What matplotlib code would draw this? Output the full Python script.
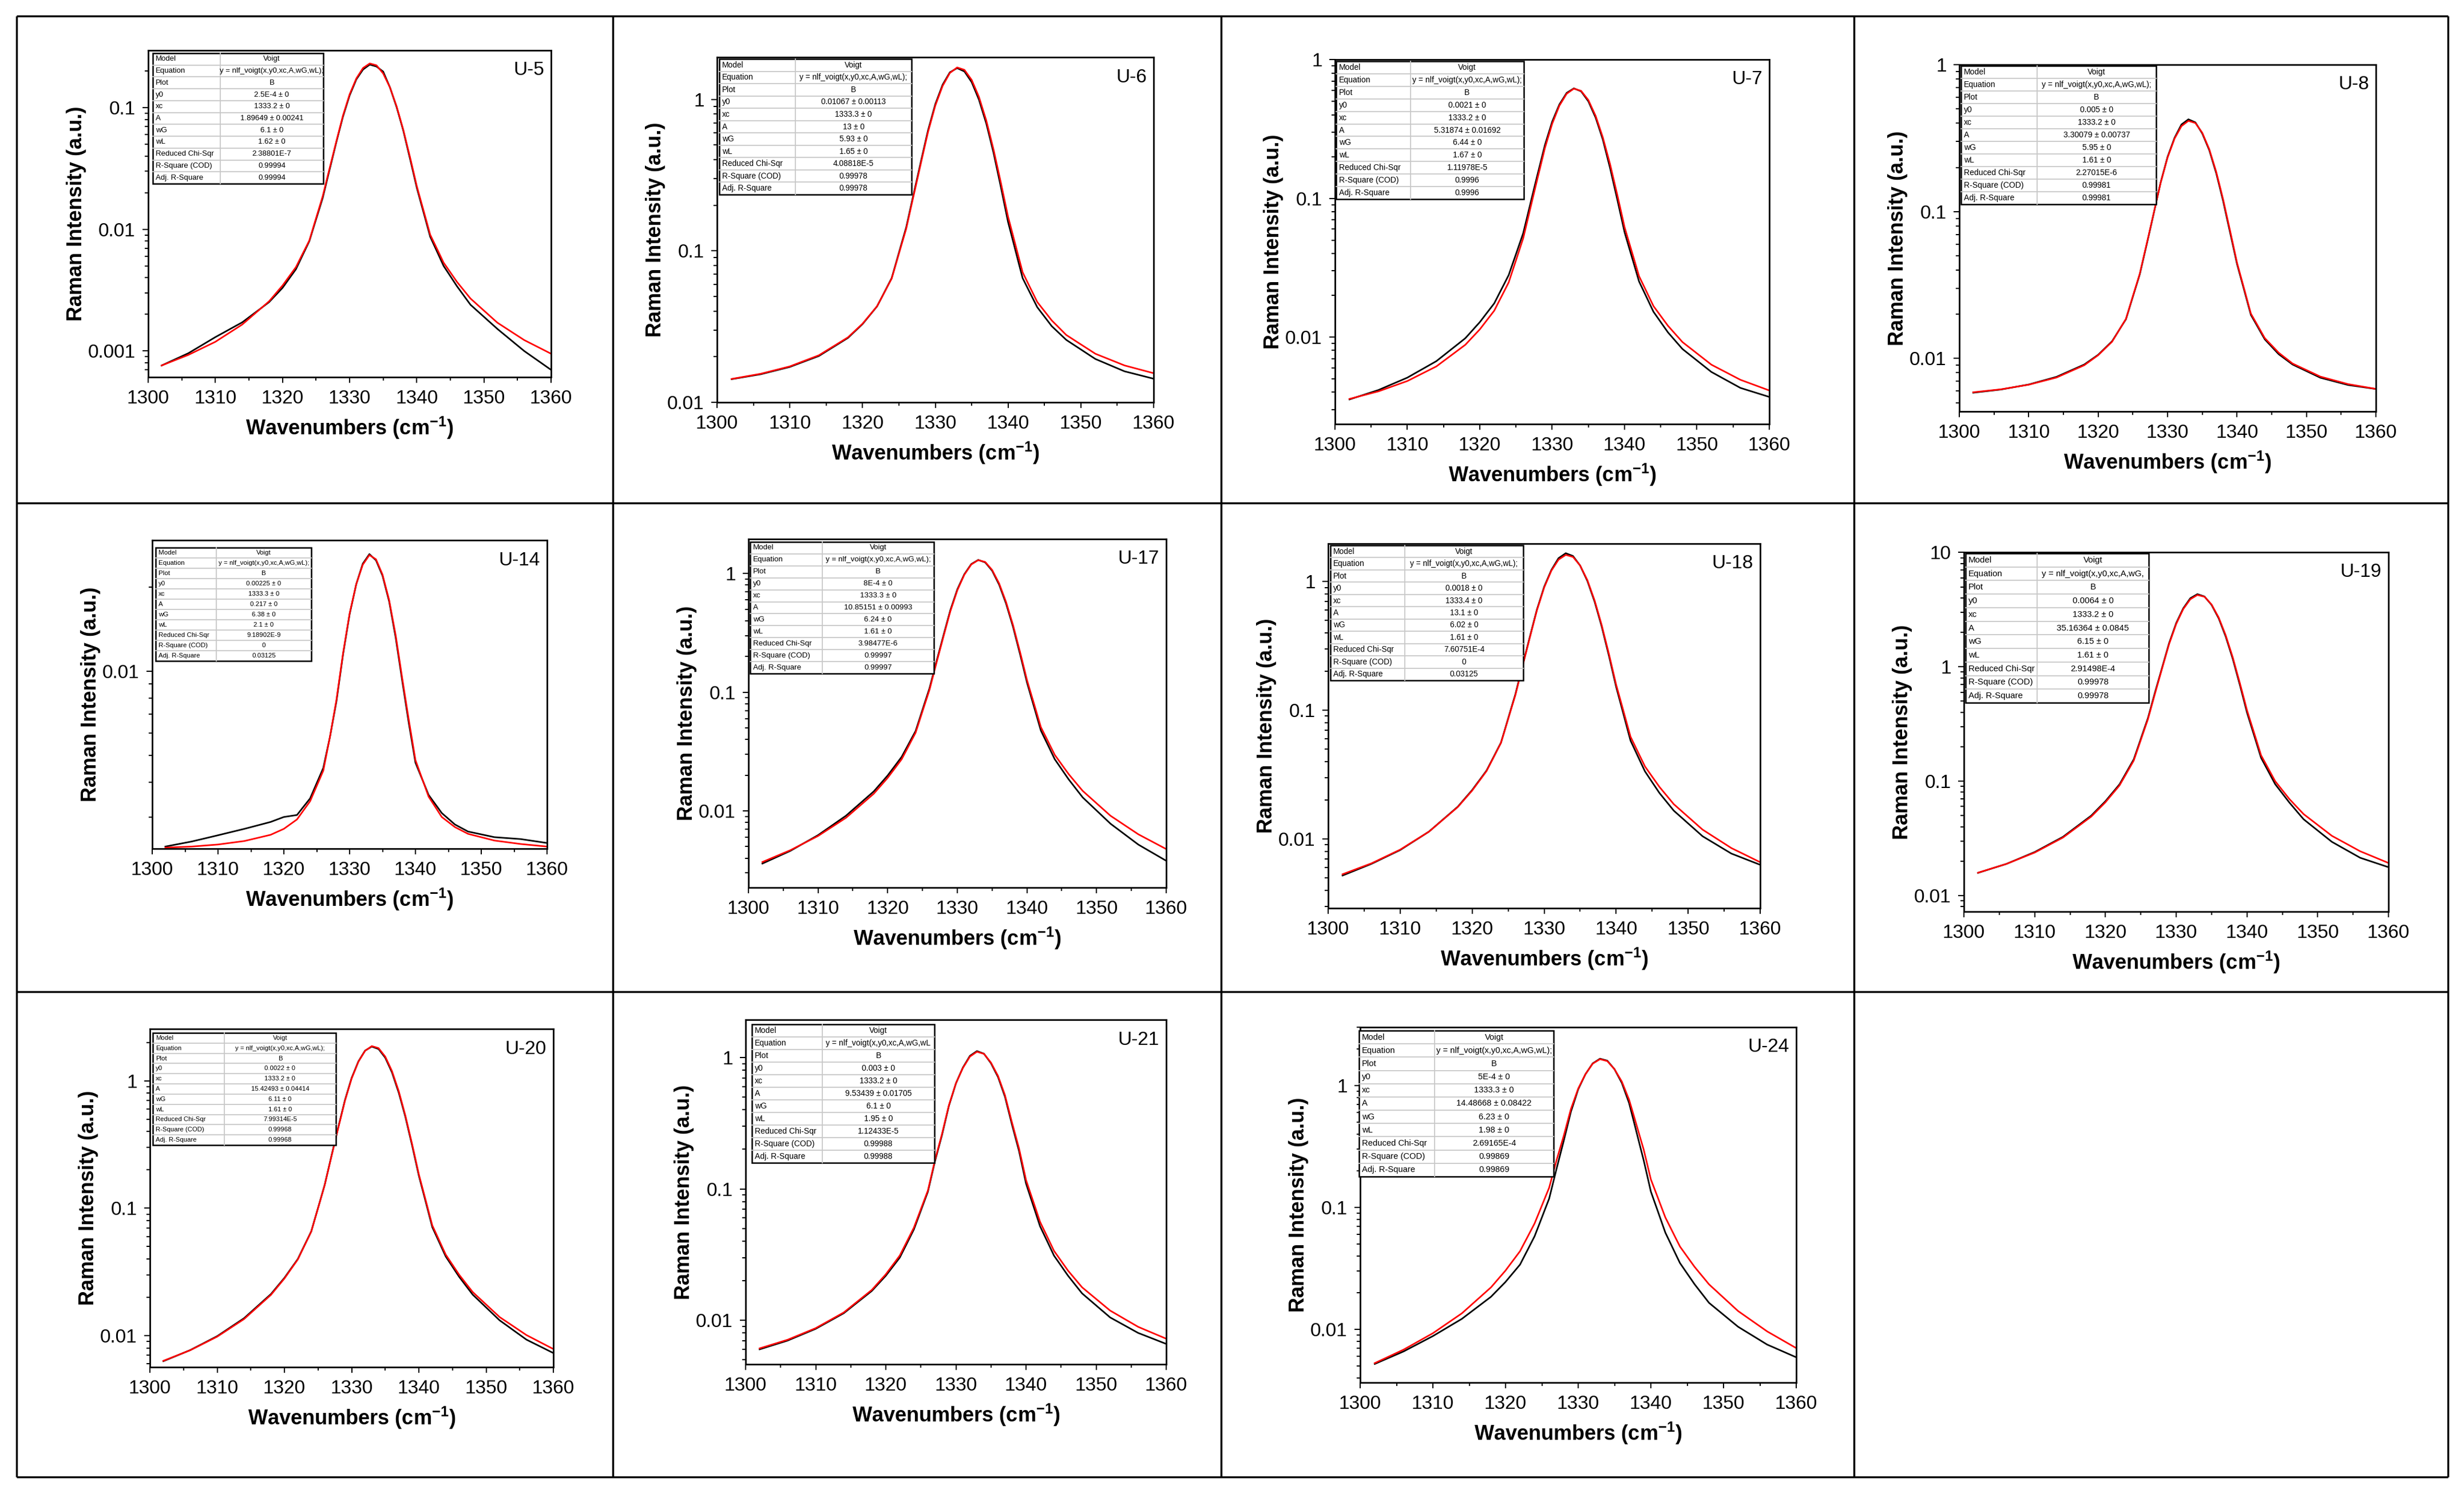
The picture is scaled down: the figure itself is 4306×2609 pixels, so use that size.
import numpy as np
import matplotlib
matplotlib.use('Agg')
import matplotlib.pyplot as plt
from matplotlib.patches import Rectangle
from matplotlib.ticker import LogLocator, NullFormatter, MultipleLocator, FuncFormatter

plt.rcParams['font.family'] = ['Liberation Sans', 'DejaVu Sans']
plt.rcParams['mathtext.default'] = 'regular'

# ---------------- values ----------------
wavenumber = [1302, 1306, 1310, 1314, 1318, 1320, 1322, 1324, 1326, 1327, 1328, 1329, 1330, 1331, 1332,
              1333, 1334, 1335, 1336, 1337, 1338, 1339, 1340, 1342, 1344, 1346, 1348, 1352, 1356, 1360]

samples = ['U-5', 'U-6', 'U-7', 'U-8', 'U-14', 'U-17', 'U-18', 'U-19', 'U-20', 'U-21', 'U-24']

# measured spectra (black)
raw_u5 = [0.00076, 0.00096, 0.0013, 0.00172, 0.00252, 0.0033, 0.0047, 0.0080, 0.0182, 0.0307, 0.0515, 0.0842,
          0.126, 0.171, 0.206, 0.226, 0.218, 0.198, 0.147, 0.101, 0.0645, 0.0379, 0.022, 0.0087, 0.0050,
          0.0034, 0.0024, 0.00152, 0.00100, 0.00070]
raw_u6 = [0.0142, 0.0153, 0.0171, 0.0202, 0.0266, 0.0328, 0.0430, 0.066, 0.143, 0.235, 0.385, 0.625,
          0.93, 1.25, 1.51, 1.61, 1.53, 1.30, 0.995, 0.695, 0.445, 0.265, 0.155, 0.066, 0.0425,
          0.0318, 0.0258, 0.0193, 0.0160, 0.0143]
raw_u7 = [0.00355, 0.00415, 0.0051, 0.0067, 0.0098, 0.0128, 0.0175, 0.0280, 0.056, 0.092, 0.150, 0.242,
          0.357, 0.475, 0.575, 0.620, 0.590, 0.500, 0.382, 0.265, 0.165, 0.098, 0.057, 0.0252, 0.0152,
          0.0108, 0.0082, 0.0056, 0.0043, 0.0037]
raw_u8 = [0.00585, 0.00615, 0.00665, 0.0075, 0.0091, 0.0106, 0.0131, 0.0185, 0.0375, 0.060, 0.097, 0.158,
          0.236, 0.318, 0.392, 0.425, 0.405, 0.340, 0.262, 0.183, 0.118, 0.072, 0.0440, 0.0198, 0.0135,
          0.0107, 0.0091, 0.0074, 0.0066, 0.0062]
raw_u14 = [0.00235, 0.00245, 0.00258, 0.00272, 0.00288, 0.0030, 0.00305, 0.0035, 0.0045, 0.0058, 0.0078, 0.0115,
           0.016, 0.0205, 0.0243, 0.0263, 0.0250, 0.0220, 0.0178, 0.0132, 0.0092, 0.0065, 0.0047, 0.0036, 0.0031,
           0.00282, 0.00266, 0.00254, 0.0025, 0.00242]
raw_u17 = [0.00360, 0.00460, 0.00625, 0.0091, 0.0146, 0.0199, 0.0285, 0.047, 0.108, 0.181, 0.300, 0.492,
           0.735, 0.985, 1.20, 1.30, 1.24, 1.055, 0.805, 0.558, 0.355, 0.210, 0.121, 0.0475, 0.0272,
           0.0184, 0.0130, 0.0078, 0.0052, 0.0038]
raw_u18 = [0.0052, 0.0064, 0.0082, 0.0114, 0.0178, 0.0240, 0.034, 0.056, 0.133, 0.223, 0.37, 0.607,
           0.91, 1.23, 1.52, 1.66, 1.58, 1.33, 1.01, 0.70, 0.445, 0.264, 0.152, 0.058, 0.0335,
           0.0228, 0.0166, 0.0105, 0.0077, 0.0063]
raw_u19 = [0.0158, 0.0189, 0.0240, 0.0326, 0.0500, 0.0668, 0.094, 0.155, 0.355, 0.595, 0.98, 1.61,
           2.41, 3.25, 3.98, 4.32, 4.12, 3.48, 2.66, 1.84, 1.17, 0.695, 0.40, 0.160, 0.094,
           0.0650, 0.0465, 0.0295, 0.0214, 0.0177]
raw_u20 = [0.0063, 0.0077, 0.0099, 0.0137, 0.0212, 0.0284, 0.0400, 0.066, 0.153, 0.258, 0.43, 0.705,
           1.055, 1.42, 1.73, 1.86, 1.78, 1.52, 1.165, 0.81, 0.52, 0.310, 0.180, 0.071, 0.0418,
           0.0289, 0.0210, 0.0132, 0.0093, 0.0073]
raw_u21 = [0.0060, 0.0070, 0.0086, 0.0113, 0.0167, 0.0218, 0.0300, 0.049, 0.095, 0.161, 0.255, 0.428,
           0.635, 0.84, 1.03, 1.12, 1.07, 0.905, 0.712, 0.503, 0.308, 0.195, 0.110, 0.052, 0.031,
           0.0218, 0.0160, 0.0105, 0.0080, 0.0066]
raw_u24 = [0.0052, 0.0066, 0.0088, 0.0122, 0.0185, 0.0245, 0.034, 0.058, 0.118, 0.205, 0.35, 0.61,
           0.93, 1.24, 1.52, 1.66, 1.60, 1.36, 1.05, 0.72, 0.42, 0.245, 0.135, 0.062, 0.035,
           0.0235, 0.0165, 0.0105, 0.0075, 0.0059]

# Voigt fit curves (red)
fit_u5 = [0.00076, 0.00093, 0.00119, 0.00165, 0.00256, 0.00345, 0.00489, 0.0081, 0.0188, 0.0315, 0.0523, 0.0859,
          0.1287, 0.174, 0.212, 0.231, 0.223, 0.191, 0.147, 0.1025, 0.0655, 0.0391, 0.0227, 0.00904, 0.00532,
          0.00369, 0.0027, 0.00171, 0.00123, 0.00095]
fit_u6 = [0.01425, 0.01541, 0.01724, 0.02042, 0.02683, 0.0330, 0.04307, 0.0655, 0.140, 0.2294, 0.375, 0.610,
          0.910, 1.227, 1.495, 1.626, 1.568, 1.345, 1.038, 0.727, 0.4675, 0.283, 0.168, 0.0721, 0.0460,
          0.0347, 0.0278, 0.0209, 0.0175, 0.01555]
fit_u7 = [0.00358, 0.00406, 0.00482, 0.00614, 0.00879, 0.01135, 0.0155, 0.0248, 0.0515, 0.0854, 0.141, 0.2304,
          0.3445, 0.4655, 0.567, 0.617, 0.595, 0.5105, 0.3933, 0.2748, 0.176, 0.1058, 0.062, 0.0275, 0.0167,
          0.01205, 0.0092, 0.00632, 0.00492, 0.00412]
fit_u8 = [0.00589, 0.00617, 0.00663, 0.00742, 0.0090, 0.01053, 0.0130, 0.0186, 0.0379, 0.0606, 0.0976, 0.1573,
          0.2334, 0.314, 0.382, 0.415, 0.401, 0.344, 0.2659, 0.1869, 0.121, 0.0741, 0.0449, 0.0202, 0.01376,
          0.01095, 0.00924, 0.00753, 0.00669, 0.00621]
fit_u14 = [0.00233, 0.00235, 0.00239, 0.00246, 0.00259, 0.00272, 0.00294, 0.00342, 0.0044, 0.0058, 0.0079, 0.0116,
           0.0161, 0.0205, 0.0241, 0.0261, 0.0252, 0.0222, 0.0180, 0.01345, 0.0094, 0.00667, 0.0048, 0.00355, 0.0030,
           0.00276, 0.00261, 0.00247, 0.0024, 0.00235]
fit_u17 = [0.00371, 0.00466, 0.00615, 0.00874, 0.01396, 0.0190, 0.0272, 0.0455, 0.1047, 0.1762, 0.293, 0.4814,
           0.7218, 0.976, 1.191, 1.296, 1.250, 1.071, 0.8244, 0.575, 0.367, 0.219, 0.1268, 0.0508, 0.0296,
           0.02037, 0.01475, 0.0091, 0.00635, 0.00477]
fit_u18 = [0.00532, 0.00646, 0.00826, 0.01139, 0.01769, 0.02376, 0.0337, 0.0557, 0.131, 0.2197, 0.365, 0.599,
           0.8976, 1.214, 1.480, 1.611, 1.554, 1.332, 1.025, 0.7152, 0.457, 0.273, 0.158, 0.0622, 0.0366,
           0.02542, 0.01864, 0.01182, 0.0085, 0.0066]
fit_u19 = [0.01584, 0.0189, 0.02375, 0.03214, 0.04904, 0.0654, 0.0919, 0.1512, 0.347, 0.581, 0.964, 1.581,
           2.368, 3.20, 3.90, 4.25, 4.10, 3.51, 2.704, 1.887, 1.206, 0.7212, 0.419, 0.1684, 0.0998,
           0.0698, 0.0516, 0.0333, 0.0244, 0.01928]
fit_u20 = [0.00634, 0.00768, 0.00981, 0.01349, 0.0209, 0.02806, 0.0397, 0.0657, 0.1525, 0.2559, 0.425, 0.6974,
           1.045, 1.413, 1.723, 1.876, 1.809, 1.551, 1.1935, 0.8327, 0.532, 0.3179, 0.1845, 0.0733, 0.0432,
           0.03002, 0.0220, 0.0140, 0.0101, 0.00785]
fit_u21 = [0.0061, 0.0071, 0.0087, 0.01145, 0.0170, 0.02236, 0.0311, 0.0506, 0.097, 0.1644, 0.260, 0.433,
           0.6358, 0.834, 1.017, 1.107, 1.067, 0.915, 0.7259, 0.5168, 0.320, 0.2039, 0.117, 0.0562, 0.0337,
           0.02382, 0.0178, 0.01184, 0.0089, 0.00723]
fit_u24 = [0.00528, 0.00683, 0.00929, 0.01354, 0.0221, 0.03037, 0.0438, 0.0739, 0.145, 0.2411, 0.385, 0.6415,
           0.9437, 1.24, 1.512, 1.646, 1.587, 1.36, 1.078, 0.7663, 0.48, 0.2999, 0.170, 0.0826, 0.0478,
           0.03262, 0.0234, 0.01413, 0.00962, 0.00702]

# fit report tables
eq_txt = ['y = nlf_voigt(x,y0,xc,A,wG,wL);'] * 7 + ['y = nlf_voigt(x,y0,xc,A,wG,',
          'y = nlf_voigt(x,y0,xc,A,wG,wL);', 'y = nlf_voigt(x,y0,xc,A,wG,wL',
          'y = nlf_voigt(x,y0,xc,A,wG,wL);']
y0_txt = ['2.5E-4 \u00b1 0', '0.01067 \u00b1 0.00113', '0.0021 \u00b1 0', '0.005 \u00b1 0', '0.00225 \u00b1 0',
          '8E-4 \u00b1 0', '0.0018 \u00b1 0', '0.0064 \u00b1 0', '0.0022 \u00b1 0', '0.003 \u00b1 0', '5E-4 \u00b1 0']
xc_txt = ['1333.2 \u00b1 0', '1333.3 \u00b1 0', '1333.2 \u00b1 0', '1333.2 \u00b1 0', '1333.3 \u00b1 0',
          '1333.3 \u00b1 0', '1333.4 \u00b1 0', '1333.2 \u00b1 0', '1333.2 \u00b1 0', '1333.2 \u00b1 0', '1333.3 \u00b1 0']
A_txt = ['1.89649 \u00b1 0.00241', '13 \u00b1 0', '5.31874 \u00b1 0.01692', '3.30079 \u00b1 0.00737',
         '0.217 \u00b1 0', '10.85151 \u00b1 0.00993', '13.1 \u00b1 0', '35.16364 \u00b1 0.0845',
         '15.42493 \u00b1 0.04414', '9.53439 \u00b1 0.01705', '14.48668 \u00b1 0.08422']
wG_txt = ['6.1 \u00b1 0', '5.93 \u00b1 0', '6.44 \u00b1 0', '5.95 \u00b1 0', '6.38 \u00b1 0', '6.24 \u00b1 0',
          '6.02 \u00b1 0', '6.15 \u00b1 0', '6.11 \u00b1 0', '6.1 \u00b1 0', '6.23 \u00b1 0']
wL_txt = ['1.62 \u00b1 0', '1.65 \u00b1 0', '1.67 \u00b1 0', '1.61 \u00b1 0', '2.1 \u00b1 0', '1.61 \u00b1 0',
          '1.61 \u00b1 0', '1.61 \u00b1 0', '1.61 \u00b1 0', '1.95 \u00b1 0', '1.98 \u00b1 0']
chi_txt = ['2.38801E-7', '4.08818E-5', '1.11978E-5', '2.27015E-6', '9.18902E-9', '3.98477E-6',
           '7.60751E-4', '2.91498E-4', '7.99314E-5', '1.12433E-5', '2.69165E-4']
r2_txt = ['0.99994', '0.99978', '0.9996', '0.99981', '0', '0.99997', '0', '0.99978', '0.99968', '0.99988', '0.99869']
adj_txt = ['0.99994', '0.99978', '0.9996', '0.99981', '0.03125', '0.99997', '0.03125', '0.99978', '0.99968',
           '0.99988', '0.99869']

raw = [raw_u5, raw_u6, raw_u7, raw_u8, raw_u14, raw_u17, raw_u18, raw_u19, raw_u20, raw_u21, raw_u24]
fit = [fit_u5, fit_u6, fit_u7, fit_u8, fit_u14, fit_u17, fit_u18, fit_u19, fit_u20, fit_u21, fit_u24]

# ---------------- layout (pixels of the 4306 x 2609 canvas) ----------------
W, H = 4306, 2609
axes_box = [(259, 88, 963, 659), (1253, 100, 2016, 703), (2333, 104, 3092, 741), (3424, 113, 4152, 719),
            (266, 944, 956, 1483), (1308, 942, 2038, 1551), (2321, 950, 3076, 1587), (3432, 965, 4174, 1593),
            (262, 1798, 967, 2389), (1303, 1782, 2038, 2384), (2377, 1795, 3139, 2416)]
ylims = [(0.00061, 0.296), (0.00999, 1.9), (0.00236, 1.001), (0.00436, 1.001),
         (0.00231, 0.0295), (0.00226, 1.95), (0.0029, 1.97), (0.00724, 10.05),
         (0.00566, 2.56), (0.00462, 1.94), (0.00366, 3.01)]
table_box = [(267, 93, 565, 321, 385), (1257, 103, 1593, 340, 1390), (2335, 107, 2663, 348, 2465),
             (3427, 115, 3768, 357, 3560), (272, 957, 544, 1155, 378), (1311, 947, 1632, 1177, 1437),
             (2325, 953, 2662, 1189, 2455), (3435, 967, 3755, 1228, 3560), (267, 1805, 587, 2001, 392),
             (1314, 1790, 1633, 2032, 1437), (2375, 1801, 2715, 2056, 2507)]
cell_x = [29, 1071, 2134, 3240, 4278]
cell_y = [28, 879, 1733, 2581]

fig = plt.figure(figsize=(W / 100, H / 100), dpi=100)

bg = fig.add_axes([0, 0, 1, 1])
bg.set_xlim(0, W)
bg.set_ylim(H, 0)
bg.axis('off')
bg.vlines(cell_x, cell_y[0], cell_y[-1], color='black', lw=2.5)
bg.hlines(cell_y, cell_x[0], cell_x[-1], color='black', lw=2.5)

for i, name in enumerate(samples):
    l, t, r, b = axes_box[i]
    ax = fig.add_axes([l / W, 1 - b / H, (r - l) / W, (b - t) / H])
    ax.plot(wavenumber, raw[i], color='black', lw=2)
    ax.plot(wavenumber, fit[i], color='red', lw=2)
    ax.set_yscale('log')
    ax.set_xlim(1300, 1360)
    ax.set_ylim(*ylims[i])
    ax.xaxis.set_major_locator(MultipleLocator(10))
    ax.xaxis.set_minor_locator(MultipleLocator(5))
    ax.yaxis.set_major_locator(LogLocator(base=10))
    ax.yaxis.set_minor_locator(LogLocator(base=10, subs=np.arange(2, 10)))
    ax.yaxis.set_major_formatter(FuncFormatter(lambda v, p: f'{v:g}'))
    ax.yaxis.set_minor_formatter(NullFormatter())
    ax.tick_params(which='both', direction='out', width=1.5, top=False, right=False)
    ax.tick_params(which='major', length=7, labelsize=24, pad=9)
    ax.tick_params(which='minor', length=4)
    for s in ax.spines.values():
        s.set_linewidth(2)
    ax.set_xlabel('Wavenumbers (cm$^{\u22121}$)', fontsize=26, fontweight='bold', labelpad=10)
    ax.set_ylabel('Raman Intensity (a.u.)', fontsize=26, fontweight='bold', labelpad=2)
    ax.text(1 - 12 / (r - l), 1 - 35 / (b - t), name, transform=ax.transAxes,
            ha='right', va='center', fontsize=24)

# fit report tables on top
top = fig.add_axes([0, 0, 1, 1], zorder=10)
top.set_xlim(0, W)
top.set_ylim(H, 0)
top.axis('off')
top.patch.set_alpha(0)
labels = ['Model', 'Equation', 'Plot', 'y0', 'xc', 'A', 'wG', 'wL',
          'Reduced Chi-Sqr', 'R-Square (COD)', 'Adj. R-Square']
for i in range(len(samples)):
    l, t, r, b, c = table_box[i]
    values = ['Voigt', eq_txt[i], 'B', y0_txt[i], xc_txt[i], A_txt[i], wG_txt[i], wL_txt[i],
              chi_txt[i], r2_txt[i], adj_txt[i]]
    rh = (b - t) / 11
    fs = rh * 0.46
    top.add_patch(Rectangle((l, t), r - l, b - t, facecolor='white', edgecolor='none'))
    for k in range(1, 11):
        top.plot([l, r], [t + k * rh, t + k * rh], color='#c8c8c8', lw=1.3)
    top.plot([c, c], [t, b], color='#c8c8c8', lw=1.3)
    top.add_patch(Rectangle((l, t), r - l, b - t, fill=False, edgecolor='black', lw=1.8))
    for k in range(11):
        yc = t + (k + 0.5) * rh
        top.text(l + 5, yc, labels[k], fontsize=fs, ha='left', va='center')
        top.text((c + r) / 2, yc, values[k], fontsize=fs, ha='center', va='center')

fig.savefig('out.png', dpi=100)
